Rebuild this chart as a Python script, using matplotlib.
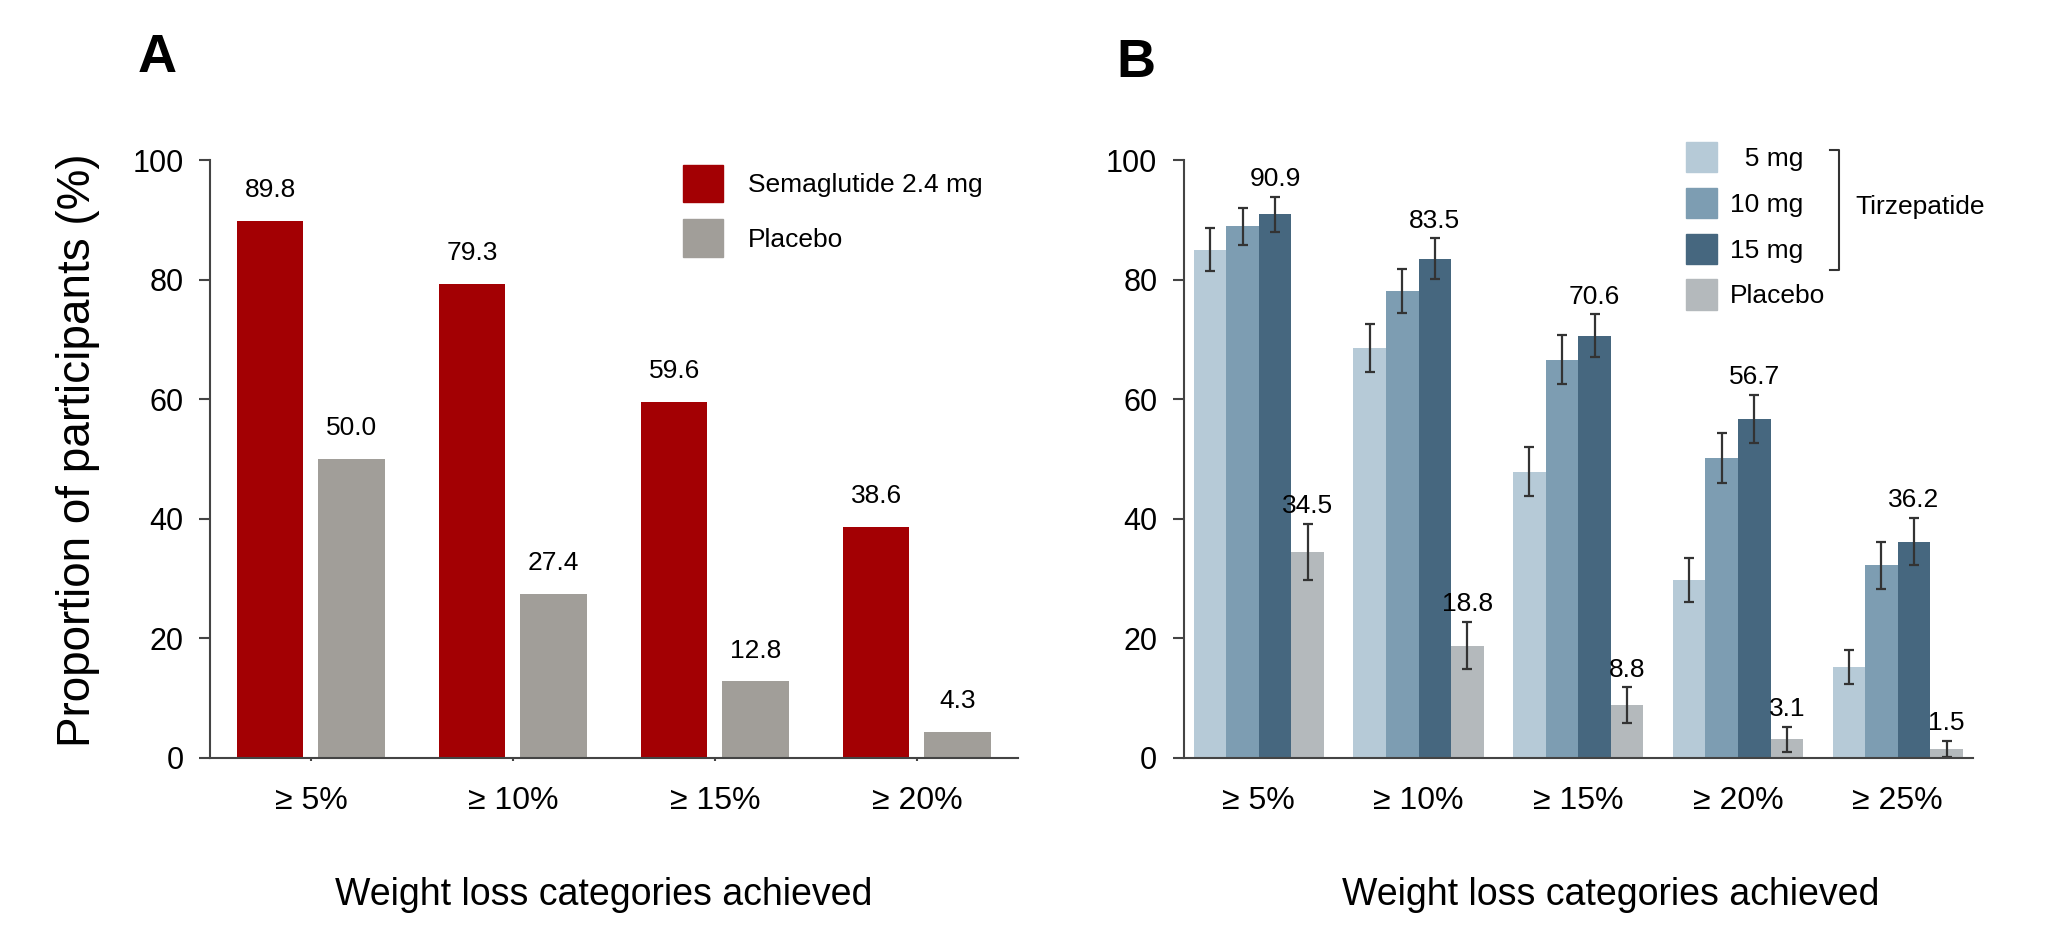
import numpy as np
import matplotlib.pyplot as plt
from matplotlib.patches import Patch
from matplotlib.lines import Line2D

plt.rcParams['font.family'] = ['Liberation Sans', 'DejaVu Sans']

# Panel A: semaglutide vs placebo
cats_a = ['≥ 5%', '≥ 10%', '≥ 15%', '≥ 20%']
sema = [89.8, 79.3, 59.6, 38.6]
placebo_a = [50.0, 27.4, 12.8, 4.3]

# Panel B: tirzepatide doses vs placebo (with error bars)
cats_b = ['≥ 5%', '≥ 10%', '≥ 15%', '≥ 20%', '≥ 25%']
tz5 = [85.0, 68.6, 47.9, 29.8, 15.2]
tz5_err = [3.6, 4.0, 4.1, 3.7, 2.9]
tz10 = [88.9, 78.1, 66.6, 50.1, 32.2]
tz10_err = [3.1, 3.7, 4.1, 4.2, 3.9]
tz15 = [90.9, 83.5, 70.6, 56.7, 36.2]
tz15_err = [2.9, 3.4, 3.6, 4.0, 3.9]
placebo_b = [34.5, 18.8, 8.8, 3.1, 1.5]
placebo_b_err = [4.7, 4.0, 3.0, 2.1, 1.4]

red = '#a30003'
gray_a = '#a19e99'
blues = ['#b6cad7', '#7d9db2', '#46677f']
gray_b = '#b4b9bc'
axis_col = '#444444'

W, H = 2048, 939
fig = plt.figure(figsize=(W / 100, H / 100), dpi=100)
axA = fig.add_axes([0.1025, 0.1928, 0.3945, 0.6368])
axB = fig.add_axes([0.578, 0.1928, 0.3853, 0.6368])

for ax in (axA, axB):
    ax.set_ylim(0, 100)
    ax.set_yticks(range(0, 101, 20))
    ax.spines['top'].set_visible(False)
    ax.spines['right'].set_visible(False)
    for s in ('left', 'bottom'):
        ax.spines[s].set_color(axis_col)
        ax.spines[s].set_linewidth(1.5)
    ax.tick_params(axis='y', length=8, width=1.5, color=axis_col, pad=11, labelsize=22)

# ---- Panel A
xa = np.arange(len(cats_a))
off_a = 0.202
bw_a = 0.33
axA.bar(xa - off_a, sema, bw_a, color=red, label='Semaglutide 2.4 mg')
axA.bar(xa + off_a, placebo_a, bw_a, color=gray_a, label='Placebo')
for i in range(len(cats_a)):
    axA.text(xa[i] - off_a, sema[i] + 4.0, f'{sema[i]:.1f}', ha='center', va='baseline', fontsize=19)
    axA.text(xa[i] + off_a, placebo_a[i] + 4.0, f'{placebo_a[i]:.1f}', ha='center', va='baseline', fontsize=19)
axA.set_xlim(-0.5, 3.5)
axA.set_xticks(xa)
axA.set_xticklabels(cats_a)
axA.tick_params(axis='x', length=2, width=1.5, color=axis_col, pad=18, labelsize=23)
axA.set_ylabel('Proportion of participants (%)', fontsize=33)
axA.yaxis.set_label_coords(-0.163, 0.515)
axA.yaxis.label.set_va('center')
axA.set_xlabel('Weight loss categories achieved', fontsize=27)
axA.xaxis.set_label_coords(0.4876, -0.2458)
axA.xaxis.label.set_va('baseline')

axA.legend(handles=[Patch(color=red), Patch(color=gray_a)],
           labels=['Semaglutide 2.4 mg', 'Placebo'],
           loc='upper left', bbox_to_anchor=(683 / W, 1 - 165 / H), bbox_transform=fig.transFigure,
           frameon=False, fontsize=19, handlelength=1.5, handleheight=1.8,
           handletextpad=0.95, labelspacing=0.65, borderpad=0, borderaxespad=0)

# ---- Panel B
xb = np.arange(len(cats_b))
w = 0.204
series = [(tz5, tz5_err, blues[0]), (tz10, tz10_err, blues[1]),
          (tz15, tz15_err, blues[2]), (placebo_b, placebo_b_err, gray_b)]
ekw = dict(ecolor='#333333', elinewidth=1.6, capsize=3.5, capthick=1.6)
for k, (vals, errs, col) in enumerate(series):
    axB.bar(xb + (k - 1.5) * w, vals, w, color=col, yerr=errs, error_kw=ekw)
for i in range(len(cats_b)):
    axB.text(xb[i] + 0.5 * w, tz15[i] + tz15_err[i] + 1.8, f'{tz15[i]:.1f}', ha='center', va='baseline', fontsize=19)
    axB.text(xb[i] + 1.5 * w, placebo_b[i] + placebo_b_err[i] + 1.8, f'{placebo_b[i]:.1f}', ha='center', va='baseline', fontsize=19)
axB.set_xlim(-0.47, 4.47)
axB.set_xticks(xb)
axB.set_xticklabels(cats_b)
axB.tick_params(axis='x', length=0, pad=20, labelsize=23)
axB.set_xlabel('Weight loss categories achieved', fontsize=27)
axB.xaxis.set_label_coords(0.541, -0.2458)
axB.xaxis.label.set_va('baseline')

axB.legend(handles=[Patch(color=blues[0]), Patch(color=blues[1]), Patch(color=blues[2]), Patch(color=gray_b)],
           labels=['  5 mg', '10 mg', '15 mg', 'Placebo'],
           loc='upper left', bbox_to_anchor=(1686 / W, 1 - 142 / H), bbox_transform=fig.transFigure,
           frameon=False, fontsize=19, handlelength=1.17, handleheight=1.4,
           handletextpad=0.5, labelspacing=0.58, borderpad=0, borderaxespad=0)

# bracket grouping the tirzepatide doses
bx = np.array([1830, 1839, 1839, 1830]) / W
by = 1 - np.array([150, 150, 270, 270]) / H
fig.add_artist(Line2D(bx, by, color='#333333', lw=1.5, transform=fig.transFigure))
fig.text(1855 / W, 1 - 207 / H, 'Tirzepatide', fontsize=19, va='center')

# panel letters
fig.text(138 / W, 1 - 72 / H, 'A', fontsize=39, fontweight='bold', va='baseline')
fig.text(1116 / W, 1 - 77 / H, 'B', fontsize=39, fontweight='bold', va='baseline')

fig.savefig('out.png', dpi=100, facecolor='white')
